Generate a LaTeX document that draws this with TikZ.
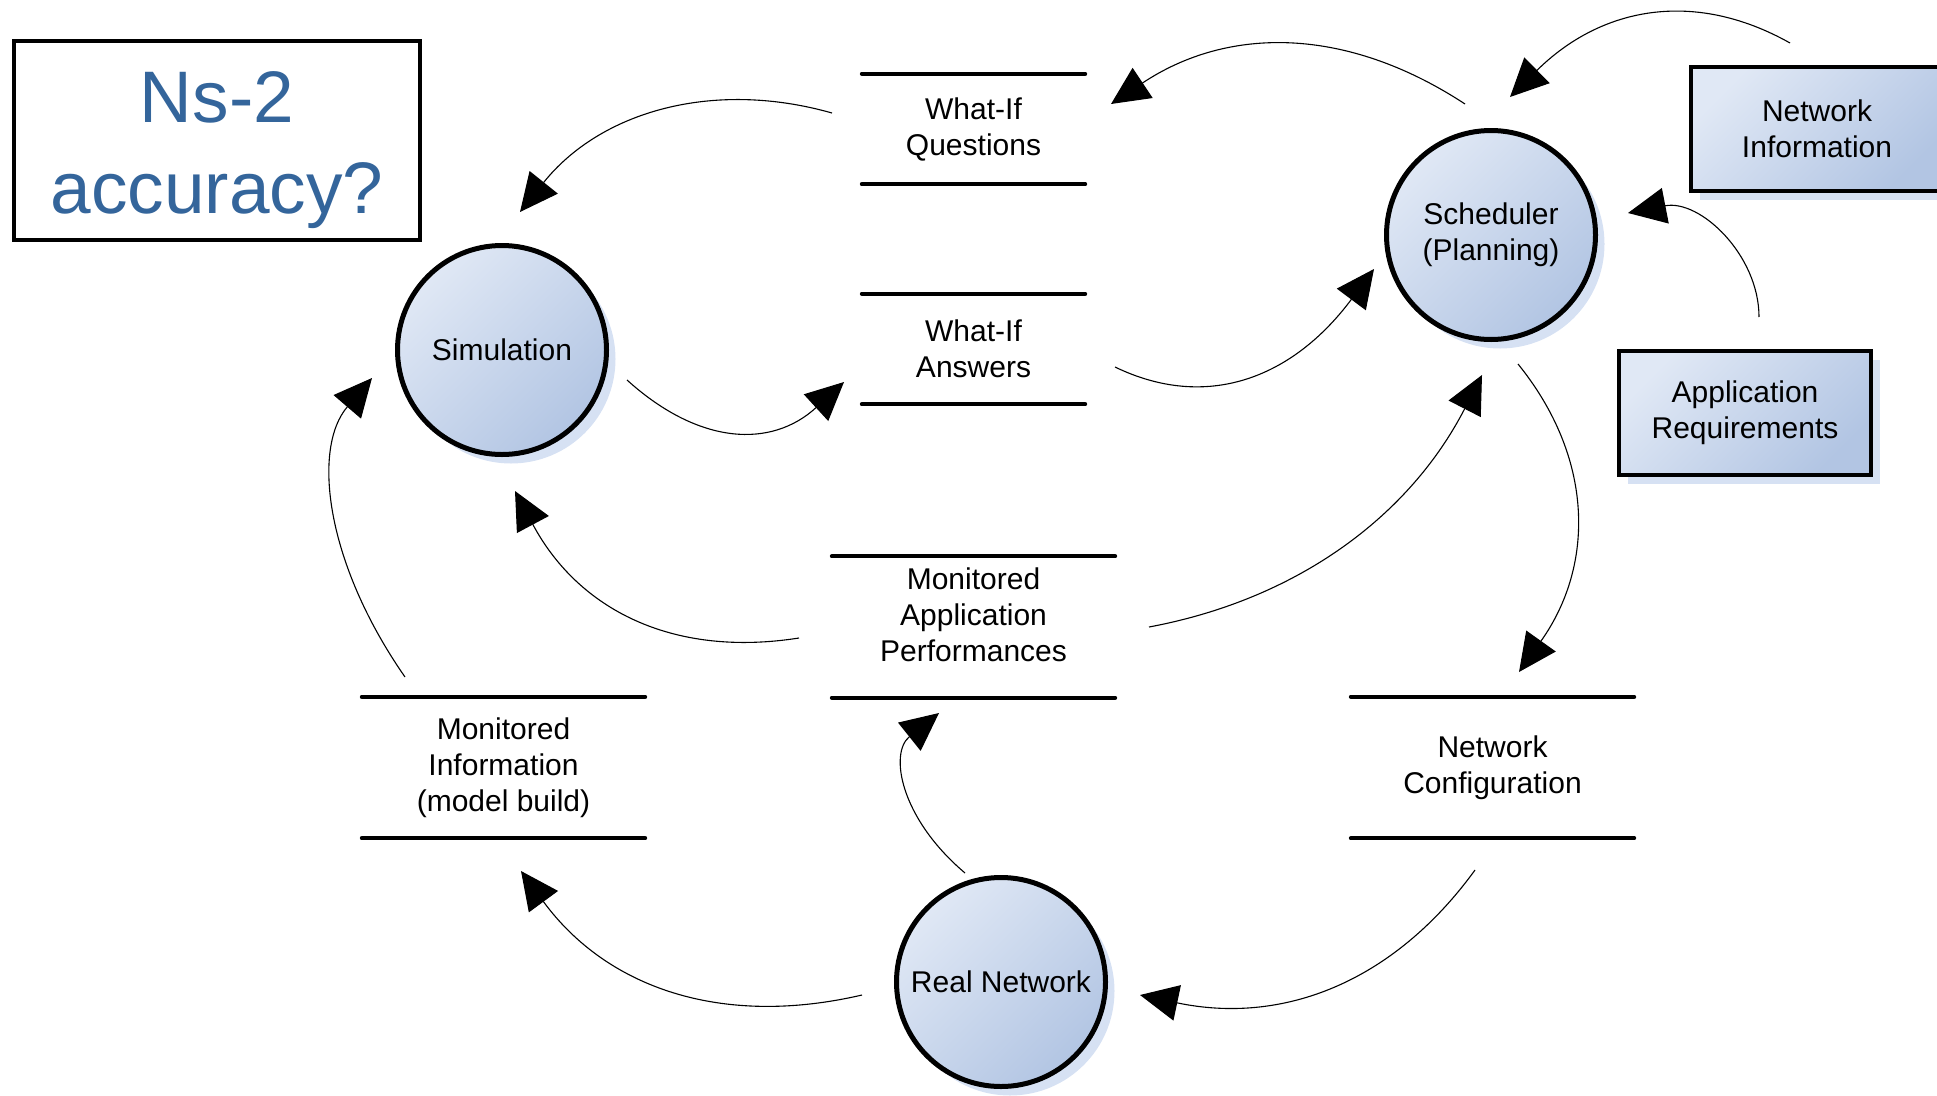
\documentclass[tikz,border=0pt]{standalone}
\usepackage{fontspec}
\setmainfont{Liberation Sans}
\usetikzlibrary{arrows.meta,shadows}
\definecolor{lightfill}{RGB}{224,232,245}
\definecolor{darkfill}{RGB}{178,197,227}
\definecolor{shadowblue}{RGB}{214,225,243}
\definecolor{titleblue}{RGB}{52,101,155}
\newcommand\lblfont{\fontsize{30}{36}\selectfont}
\newcommand\titlefont{\fontsize{73}{91}\selectfont}
\begin{document}
\begin{tikzpicture}[x=1pt,y=-1pt,
  proc/.style={circle, draw=black, line width=5pt, minimum size=209pt, inner sep=0pt,
    top color=lightfill, bottom color=darkfill, shading angle=45,
    drop shadow={shadow xshift=9pt, shadow yshift=-9pt, fill=shadowblue, opacity=1},
    font=\lblfont, align=center},
  ext/.style={rectangle, draw=black, line width=4.5pt, inner sep=0pt,
    minimum width=252pt, minimum height=124pt,
    top color=lightfill, bottom color=darkfill, shading angle=45,
    drop shadow={shadow xshift=9pt, shadow yshift=-9pt, fill=shadowblue, opacity=1},
    font=\lblfont, align=center},
  storeA/.style={rectangle, minimum width=223pt, minimum height=110pt, inner sep=0pt,
    font=\lblfont, align=center},
  storeB/.style={rectangle, minimum width=283pt, minimum height=141pt, inner sep=0pt,
    font=\lblfont, align=center},
  sline/.style={line width=4pt, line cap=round},
  flow/.style={line width=1.1pt, -{Triangle[length=38pt,width=36pt]}},
  titlebox/.style={rectangle, draw=black, line width=4pt, minimum width=406pt, minimum height=199pt, inner sep=0pt},
  titletext/.style={font=\titlefont, text=titleblue, align=center, inner sep=0pt}
]
\useasboundingbox (0,0) rectangle (1937,1095);
\clip (0,0) rectangle (1937,1095);

% title
\node[titlebox] (title) at (217,140.5) {};
\node[titletext] (titletxt) at (217,150.5) {Ns-2\\accuracy?};

% processes
\node[proc] (sim) at (502,350) {Simulation};
\node[proc] (sched) at (1491,235) {Scheduler\\(Planning)};
\node[proc] (real) at (1001,982) {Real Network};

% external entities
\node[ext] (netinfo) at (1817,129) {Network\\Information};
\node[ext] (appreq) at (1745,413) {Application\\Requirements};

% data stores
\node[storeA] (wq) at (973.5,129) {What-If\\Questions};
\node[storeA] (wa) at (973.5,349) {What-If\\Answers};
\node[storeB, label={[font=\lblfont, align=center, inner sep=0pt, yshift=12pt]center:{Monitored\\Application\\Performances}}] (map) at (973.5,627) {};
\node[storeB] (mi) at (503.5,767.5) {Monitored\\Information\\(model build)};
\node[storeB] (nc) at (1492.5,767.5) {Network\\Configuration};

\foreach \s in {wq,wa,map,mi,nc}{
  \draw[sline] (\s.north west) -- (\s.north east);
  \draw[sline] (\s.south west) -- (\s.south east);
}

% flows
\draw[flow] ([shift={(-141.5,-16)}]wq.center) .. controls +(-120,-34) and +(80,-100) .. ([shift={(18,-138)}]sim.center);
\draw[flow] ([shift={(-26,-131)}]sched.center) .. controls +(-119,-78) and +(117,-78) .. ([shift={(137.5,-25)}]wq.center);
\draw[flow] ([shift={(-27,-86)}]netinfo.center) .. controls +(-96,-54) and +(91,-90) .. ([shift={(19,-138)}]sched.center);
\draw[flow] ([shift={(14,-96)}]appreq.center) .. controls +(0,-62) and +(72,-14) .. ([shift={(137,-22)}]sched.center);
\draw[flow] ([shift={(125,30)}]sim.center) .. controls +(73,66) and +(-72,66) .. ([shift={(-129.5,33)}]wa.center);
\draw[flow] ([shift={(141.5,18)}]wa.center) .. controls +(91,44) and +(-82,110) .. ([shift={(-117,34)}]sched.center);
\draw[flow] ([shift={(-174.5,11)}]map.center) .. controls +(-127,20) and +(63,118) .. ([shift={(13,141)}]sim.center);
\draw[flow] ([shift={(175.5,0)}]map.center) .. controls +(150,-28) and +(-72,140) .. ([shift={(-9,140)}]sched.center);
\draw[flow] ([shift={(27,129)}]sched.center) .. controls +(76,94) and +(76,-107) .. ([shift={(26.5,-95.5)}]nc.center);
\draw[flow] ([shift={(-98.5,-90.5)}]mi.center) .. controls +(-80,-115) and +(-60,70) .. ([shift={(-130,28)}]sim.center);
\draw[flow] ([shift={(-17.5,102.5)}]nc.center) .. controls +(-82,113) and +(142,30) .. ([shift={(139,13)}]real.center);
\draw[flow] ([shift={(-139,13)}]real.center) .. controls +(-142,33) and +(85,116) .. ([shift={(17.5,103.5)}]mi.center);
\draw[flow] ([shift={(-36,-109)}]real.center) .. controls +(-65,-55) and +(-50,40) .. ([shift={(-34.5,86)}]map.center);
\end{tikzpicture}
\end{document}
